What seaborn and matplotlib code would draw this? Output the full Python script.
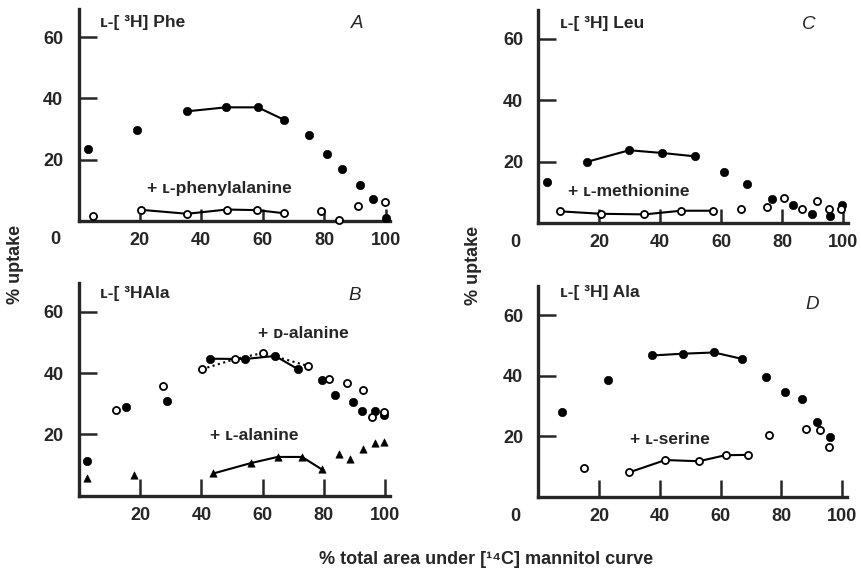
import matplotlib
matplotlib.use("Agg")
import matplotlib.pyplot as plt
import seaborn as sns

sns.set_style("ticks")
plt.rcParams["font.family"] = ["Liberation Sans", "DejaVu Sans"]

# panel A: L-[3H] Phe
phe_x = [3.2, 19.2, 35.4, 48.0, 58.4, 66.8, 75.2, 80.9, 85.8, 91.7, 95.8, 100.0]
phe_y = [23.6, 29.7, 35.8, 37.1, 37.1, 33.1, 28.0, 21.7, 17.0, 11.8, 6.9, 0.9]
phe_join = (2, 6)
phe_inh_x = [4.6, 20.4, 35.4, 48.3, 58.1, 66.8, 78.9, 84.9, 90.9, 99.9]
phe_inh_y = [1.4, 3.5, 2.2, 3.6, 3.4, 2.4, 3.0, 0.3, 4.9, 6.1]
phe_inh_join = (1, 6)

# panel C: L-[3H] Leu
leu_x = [3.0, 15.9, 29.8, 40.7, 51.5, 60.9, 68.5, 76.6, 83.4, 89.6, 95.7, 99.6]
leu_y = [13.2, 19.9, 23.7, 22.8, 21.7, 16.5, 12.6, 7.8, 6.0, 3.0, 2.4, 5.8]
leu_join = (1, 5)
met_x = [7.1, 20.6, 34.8, 46.8, 57.4, 66.4, 74.9, 80.6, 86.6, 91.5, 95.4, 99.3]
met_y = [3.8, 3.0, 2.8, 4.0, 4.0, 4.7, 5.3, 8.2, 4.6, 7.3, 4.4, 4.6]
met_join = (0, 5)

# panel B: L-[3H] Ala with D- and L-alanine
alab_x = [2.7, 15.2, 28.6, 42.8, 54.2, 64.1, 71.7, 79.4, 83.8, 89.6, 92.6, 96.6, 99.8]
alab_y = [11.4, 28.8, 30.9, 44.7, 44.6, 45.6, 41.2, 37.6, 32.7, 30.6, 27.5, 27.5, 26.4]
alab_join = (3, 7)
dala_x = [12.0, 27.3, 40.2, 51.1, 60.2, 74.9, 81.8, 87.6, 92.7, 95.8, 99.8]
dala_y = [28.1, 35.7, 41.3, 44.6, 46.6, 42.3, 38.2, 36.9, 34.4, 25.6, 27.3]
dala_join = (2, 6)
lala_x = [2.7, 18.0, 43.9, 56.2, 64.9, 72.9, 79.4, 85.0, 88.6, 92.7, 96.6, 99.8]
lala_y = [5.8, 6.6, 7.2, 10.6, 12.6, 12.6, 8.5, 13.5, 11.8, 15.3, 17.1, 17.6]
lala_join = (2, 7)

# panel D: L-[3H] Ala with L-serine
alad_x = [7.9, 23.0, 37.3, 47.7, 57.8, 66.9, 74.9, 81.2, 86.7, 91.8, 96.0]
alad_y = [28.0, 38.7, 46.7, 47.3, 47.7, 45.6, 39.7, 34.7, 32.5, 24.7, 19.8]
alad_join = (2, 6)
ser_x = [15.0, 29.8, 41.8, 52.8, 61.6, 68.9, 75.9, 88.0, 92.7, 95.7]
ser_y = [9.5, 8.1, 12.2, 11.8, 13.8, 13.9, 20.5, 22.4, 22.0, 16.5]
ser_join = (1, 6)

x_ticks = [20, 40, 60, 80, 100]
y_ticks = [20, 40, 60]

W, H = 861, 576
fig = plt.figure(figsize=(W / 100, H / 100), dpi=100)


def make_ax(left, bottom, xscale, yscale, xtick_len=9, xmax=101.5, ymax=69.5):
    # pixel positions -> figure fractions
    ax = fig.add_axes([left / W, (H - bottom) / H, xmax * xscale / W, ymax * yscale / H])
    ax.set_xlim(0, xmax)
    ax.set_ylim(0, ymax)
    sns.despine(ax=ax)
    ax.spines["left"].set_linewidth(2.4)
    ax.spines["bottom"].set_linewidth(2.4)
    ax.set_xticks(x_ticks)
    ax.set_yticks(y_ticks)
    ax.tick_params(axis="y", direction="in", length=13, width=1.8, pad=11, labelsize=13)
    ax.tick_params(axis="x", direction="in", length=xtick_len, width=1.8, pad=8, labelsize=13)
    for lab in ax.get_xticklabels() + ax.get_yticklabels():
        lab.set_fontweight("bold")
    return ax


def series(ax, xs, ys, join, kind, ls="-"):
    a, b = join
    sns.lineplot(x=xs[a:b], y=ys[a:b], ax=ax, sort=False, estimator=None,
                 color="black", lw=1.5, ls=ls, zorder=2)
    if kind == "filled":
        sns.scatterplot(x=xs, y=ys, ax=ax, marker="o", s=36, color="black",
                        edgecolor="black", zorder=3, clip_on=False)
    elif kind == "open":
        sns.scatterplot(x=xs, y=ys, ax=ax, marker="o", s=26, color="white",
                        edgecolor="black", linewidth=1.3, zorder=4, clip_on=False)
    else:
        sns.scatterplot(x=xs, y=ys, ax=ax, marker="^", s=28, color="black",
                        edgecolor="black", zorder=3, clip_on=False)


def zero_label(ax):
    ax.annotate("0", xy=(0, 0), xytext=(-13, -14), textcoords="offset points",
                ha="right", va="center", fontsize=13, fontweight="bold")


txt = dict(fontsize=12.5, fontweight="bold", va="center", ha="left")
letter = dict(fontsize=13.5, style="italic", va="center", ha="center")

# A
axA = make_ax(78.5, 220.5, 3.07, 3.05)
series(axA, phe_x, phe_y, phe_join, "filled")
series(axA, phe_inh_x, phe_inh_y, phe_inh_join, "open")
axA.text(7.0, 65.0, "ʟ-[ ³H] Phe", **txt)
axA.text(90.7, 64.6, "A", **letter)
axA.text(22.3, 10.5, "+ ʟ-phenylalanine", **txt)
zero_label(axA)

# C
axC = make_ax(538.3, 223, 3.05, 3.07, xtick_len=10)
series(axC, leu_x, leu_y, leu_join, "filled")
series(axC, met_x, met_y, met_join, "open")
axC.text(7.1, 65.1, "ʟ-[ ³H] Leu", **txt)
axC.text(88.7, 64.8, "C", **letter)
axC.text(9.7, 10.1, "+ ʟ-methionine", **txt)
zero_label(axC)

# B
axB = make_ax(79, 495.5, 3.06, 3.06, xtick_len=12.5)
series(axB, alab_x, alab_y, alab_join, "filled")
series(axB, dala_x, dala_y, dala_join, "open", ls=":")
series(axB, lala_x, lala_y, lala_join, "tri")
axB.text(6.9, 66.1, "ʟ-[ ³HAla", **txt)
axB.text(90.2, 65.4, "B", **letter)
axB.text(58.5, 53.0, "+ ᴅ-alanine", **txt)
axB.text(42.8, 19.7, "+ ʟ-alanine", **txt)

# D
axD = make_ax(538.3, 497, 3.04, 3.03, xtick_len=12.5)
series(axD, alad_x, alad_y, alad_join, "filled")
series(axD, ser_x, ser_y, ser_join, "open")
axD.text(7.1, 67.4, "ʟ-[ ³H] Ala", **txt)
axD.text(90.1, 63.4, "D", **letter)
axD.text(30.2, 18.9, "+ ʟ-serine", **txt)
zero_label(axD)

fig.text(15 / W, 1 - 264 / H, "% uptake", rotation=90, ha="center", va="center",
         fontsize=13, fontweight="bold")
fig.text(473 / W, 1 - 265 / H, "% uptake", rotation=90, ha="center", va="center",
         fontsize=13, fontweight="bold")
fig.text(486 / W, 1 - 559 / H, "% total area under [¹⁴C] mannitol curve",
         ha="center", va="center", fontsize=13, fontweight="bold")

fig.savefig("out.png", dpi=100)
